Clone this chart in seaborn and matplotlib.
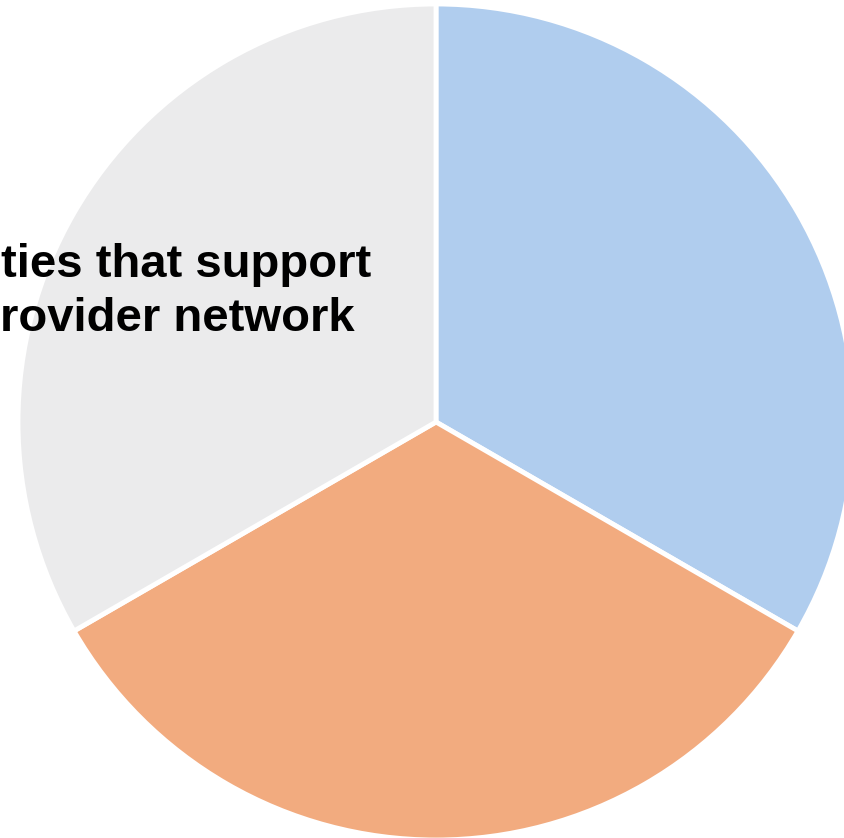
import matplotlib
matplotlib.use("Agg")
import matplotlib.pyplot as plt
import seaborn as sns

# Data
categories = ["Support", "Do not support", "Unsure"]
values = [1, 1, 1]
colors_hex = ["#b0cdee", "#f2ab7f", "#ebebec"]
title_lines = ["ties that support", "rovider network"]

sns.set_theme(style="white")
plt.rcParams['font.family'] = ['Liberation Sans', 'DejaVu Sans']

W, H = 845, 838
fig = plt.figure(figsize=(W / 100, H / 100), dpi=100)
ax = fig.add_axes([0, 0, 1, 1])

palette = sns.color_palette(colors_hex)
ax.pie(values, colors=palette, startangle=90, counterclock=False,
       center=(436, H - 422), radius=418,
       wedgeprops=dict(edgecolor="white", linewidth=3.5))
ax.set_xlim(0, W)
ax.set_ylim(0, H)
ax.set_aspect('equal')
ax.axis('off')

fig.text(1 / W, 1 - 277 / H, title_lines[0], fontsize=34, fontweight='bold',
         ha='left', va='baseline', color='black')
fig.text(0 / W, 1 - 331 / H, title_lines[1], fontsize=34, fontweight='bold',
         ha='left', va='baseline', color='black')

fig.savefig("out.png", dpi=100, facecolor='white')
